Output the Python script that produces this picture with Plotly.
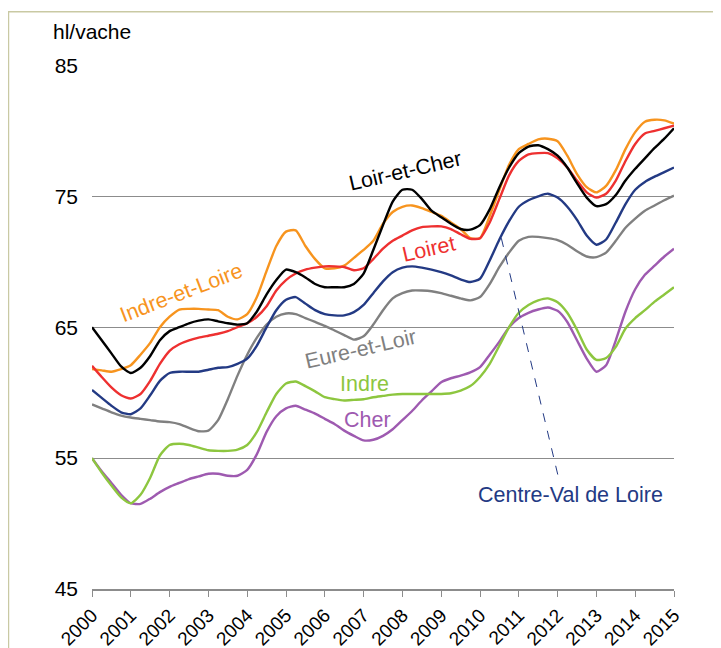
import plotly.graph_objects as go

# Quarterly time points 2000.00 .. 2015.00
years = [2000 + q / 4 for q in range(61)]
tick_years = list(range(2000, 2016))
tick_labels = [str(y) for y in tick_years]
y_ticks = [45, 55, 65, 75, 85]

loir_et_cher = [65.0, 64.0, 63.0, 62.0, 61.5, 61.9, 62.8, 64.0, 64.7, 65.0, 65.3, 65.5,
                65.6, 65.45, 65.3, 65.2, 65.3, 66.2, 67.5, 68.6, 69.4, 69.2, 68.8, 68.3,
                68.05, 68.05, 68.05, 68.3, 69.1, 70.9, 72.8, 74.6, 75.5, 75.5, 74.8, 73.9,
                73.4, 72.9, 72.5, 72.45, 72.8, 74.0, 75.7, 77.2, 78.3, 78.8, 78.9, 78.6,
                78.1, 77.2, 76.0, 74.9, 74.25, 74.4, 75.1, 76.2, 77.1, 77.9, 78.7, 79.4, 80.2]

indre_et_loire = [61.8, 61.7, 61.6, 61.8, 62.1, 62.9, 63.8, 65.0, 65.8, 66.35, 66.4, 66.4,
                  66.35, 66.3, 65.8, 65.6, 66.0, 67.3, 69.3, 71.2, 72.3, 72.4, 71.2, 70.2,
                  69.5, 69.5, 69.7, 70.3, 70.9, 71.6, 72.9, 73.8, 74.2, 74.3, 74.1, 73.8,
                  73.5, 73.0, 72.5, 71.8, 71.8, 73.5, 75.5, 77.4, 78.6, 79.0, 79.35, 79.4,
                  79.2, 78.1, 76.7, 75.7, 75.3, 75.8, 77.0, 78.6, 79.9, 80.7, 80.85, 80.8, 80.55]

loiret = [62.05, 61.2, 60.4, 59.8, 59.55, 59.9, 60.9, 62.2, 63.2, 63.7, 64.0, 64.2,
          64.35, 64.5, 64.7, 65.0, 65.3, 65.8, 66.6, 67.8, 68.6, 69.1, 69.4, 69.55,
          69.65, 69.65, 69.6, 69.35, 69.5, 70.2, 71.0, 71.6, 72.0, 72.4, 72.65, 72.7,
          72.7, 72.5, 72.1, 71.75, 71.8, 73.0, 74.8, 76.6, 77.7, 78.2, 78.3, 78.3,
          77.9, 77.2, 76.2, 75.3, 74.9, 75.2, 76.2, 77.7, 79.0, 79.8, 80.0, 80.2, 80.4]

centre_val_de_loire = [60.2, 59.6, 59.0, 58.5, 58.35, 58.8, 59.8, 60.9, 61.5, 61.6, 61.6, 61.6,
                       61.75, 61.9, 61.95, 62.2, 62.6, 63.6, 65.0, 66.3, 67.1, 67.3, 66.8, 66.3,
                       66.0, 65.9, 65.9, 66.15, 66.7, 67.6, 68.5, 69.2, 69.55, 69.65, 69.55, 69.4,
                       69.2, 68.95, 68.65, 68.45, 68.7, 70.1, 71.7, 73.1, 74.2, 74.7, 75.0, 75.2,
                       74.9, 74.2, 73.2, 72.0, 71.3, 71.7, 73.0, 74.4, 75.5, 76.1, 76.5, 76.85, 77.2]

eure_et_loir = [59.1, 58.8, 58.5, 58.25, 58.1, 58.0, 57.9, 57.8, 57.75, 57.6, 57.3, 57.05,
                57.1, 57.9, 59.5, 61.3, 62.9, 64.2, 65.2, 65.8, 66.05, 66.0, 65.7, 65.4,
                65.1, 64.75, 64.4, 64.05, 64.3, 65.2, 66.3, 67.2, 67.6, 67.8, 67.8, 67.75,
                67.6, 67.4, 67.2, 67.05, 67.3, 68.3, 69.6, 70.7, 71.6, 71.9, 71.9, 71.8,
                71.65, 71.3, 70.8, 70.4, 70.35, 70.7, 71.6, 72.6, 73.3, 73.9, 74.3, 74.7, 75.05]

indre = [55.0, 53.9, 52.9, 52.0, 51.55, 52.2, 53.5, 55.2, 56.0, 56.1, 56.0, 55.8,
         55.6, 55.55, 55.55, 55.65, 56.0, 57.0, 58.5, 59.9, 60.7, 60.85, 60.5, 60.1,
         59.65, 59.5, 59.4, 59.45, 59.5, 59.65, 59.75, 59.85, 59.9, 59.9, 59.9, 59.9,
         59.9, 59.95, 60.15, 60.5, 61.2, 62.2, 63.6, 65.0, 66.1, 66.7, 67.05, 67.2,
         66.9, 66.1, 64.8, 63.3, 62.5, 62.65, 63.5, 64.9, 65.7, 66.3, 66.95, 67.5, 68.05]

cher = [55.0, 54.0, 53.1, 52.2, 51.55, 51.5, 51.9, 52.4, 52.8, 53.1, 53.4, 53.6,
        53.8, 53.8, 53.65, 53.65, 54.1, 55.3, 57.0, 58.2, 58.8, 59.0, 58.7, 58.4,
        58.0, 57.6, 57.1, 56.7, 56.35, 56.4, 56.7, 57.2, 57.9, 58.6, 59.4, 60.1,
        60.8, 61.1, 61.3, 61.55, 61.95, 62.9, 63.9, 65.0, 65.7, 66.1, 66.35, 66.5,
        66.25, 65.4, 64.0, 62.6, 61.6, 62.1, 64.0, 66.2, 67.9, 69.0, 69.7, 70.4, 71.0]

series = [
    ("Eure-et-Loir", eure_et_loir, "#808080"),
    ("Cher", cher, "#9E5AB0"),
    ("Indre", indre, "#8DC63F"),
    ("Centre-Val de Loire", centre_val_de_loire, "#233A84"),
    ("Indre-et-Loire", indre_et_loire, "#F7941E"),
    ("Loiret", loiret, "#EE3030"),
    ("Loir-et-Cher", loir_et_cher, "#000000"),
]

FONT = "Liberation Sans, Arial, sans-serif"

fig = go.Figure()
for name, vals, col in series:
    fig.add_trace(go.Scatter(x=years, y=vals, mode="lines", name=name,
                             line=dict(color=col, width=2.4, shape="spline", smoothing=0.6)))

# dashed leader line for Centre-Val de Loire
fig.add_trace(go.Scatter(x=[2010.55, 2012.04], y=[71.8, 53.3], mode="lines",
                         line=dict(color="#233A84", width=1, dash="dash"), hoverinfo="skip"))

labels = [
    ("Loir-et-Cher", 2008.08, 76.9, "#000000", -13),
    ("Loiret", 2008.69, 70.94, "#EE3030", -13),
    ("Indre-et-Loire", 2002.30, 67.58, "#F7941E", -21),
    ("Eure-et-Loir", 2006.94, 63.30, "#808080", -13),
    ("Indre", 2007.02, 60.63, "#8DC63F", 0),
    ("Cher", 2007.10, 57.88, "#9E5AB0", 0),
    ("Centre-Val de Loire", 2012.33, 52.15, "#233A84", 0),
]
for txt, x, y, col, ang in labels:
    fig.add_annotation(x=x, y=y, text=txt, showarrow=False, textangle=ang,
                       xanchor="center", yanchor="middle",
                       font=dict(family=FONT, size=21.5, color=col))

fig.add_annotation(xref="paper", yref="paper", x=-0.07, y=1.063, text="hl/vache",
                   showarrow=False, xanchor="left", yanchor="middle",
                   font=dict(family=FONT, size=21, color="#000000"))

# outer frame
fig.add_shape(type="rect", xref="paper", yref="paper",
              x0=-0.1435, x1=1.1, y0=-0.13, y1=1.1015,
              line=dict(color="#C9C9A3", width=1.5), layer="below")

fig.update_layout(
    width=713, height=640,
    margin=dict(l=84, r=47, t=57, b=59, autoexpand=False),
    paper_bgcolor="white", plot_bgcolor="white",
    showlegend=False,
    font=dict(family=FONT, size=20, color="#000000"),
    xaxis=dict(range=[2000, 2015], tickvals=tick_years, ticktext=tick_labels,
               tickangle=-45, ticks="outside", ticklen=6, tickcolor="#8C8C8C",
               showline=True, linecolor="#8C8C8C", linewidth=1.5, showgrid=False,
               zeroline=False, automargin=False,
               tickfont=dict(family=FONT, size=19, color="#000000")),
    yaxis=dict(range=[45, 85.03], tickvals=y_ticks, ticks="", showgrid=True,
               gridcolor="#8C8C8C", gridwidth=1, zeroline=False, showline=False,
               automargin=False, ticklabelstandoff=13,
               tickfont=dict(family=FONT, size=21, color="#000000")),
)

fig.write_html("out.html")
